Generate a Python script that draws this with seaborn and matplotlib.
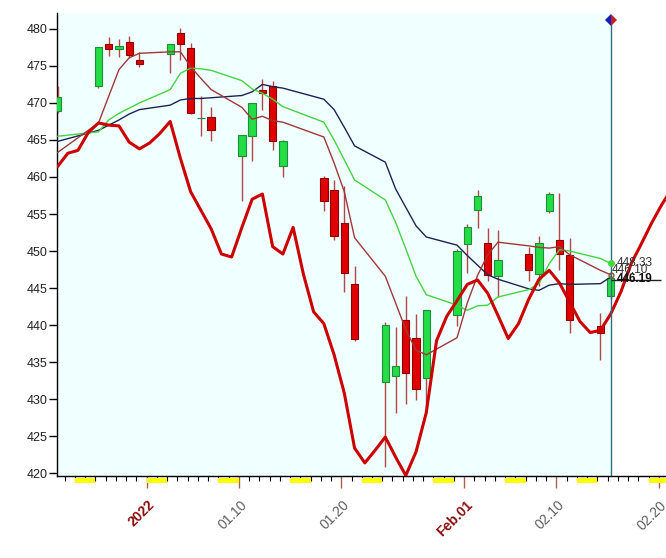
import numpy as np
import pandas as pd
import matplotlib.pyplot as plt
import matplotlib.transforms as mtransforms
from matplotlib.patches import Rectangle
import seaborn as sns

# trading days and OHLC
trade_dates = ["2021-12-23", "2021-12-27", "2021-12-28", "2021-12-29", "2021-12-30", "2021-12-31",
               "2022-01-03", "2022-01-04", "2022-01-05", "2022-01-06", "2022-01-07",
               "2022-01-10", "2022-01-11", "2022-01-12", "2022-01-13", "2022-01-14",
               "2022-01-18", "2022-01-19", "2022-01-20", "2022-01-21",
               "2022-01-24", "2022-01-25", "2022-01-26", "2022-01-27", "2022-01-28",
               "2022-01-31", "2022-02-01", "2022-02-02", "2022-02-03", "2022-02-04",
               "2022-02-07", "2022-02-08", "2022-02-09", "2022-02-10", "2022-02-11",
               "2022-02-14", "2022-02-15"]
opens = [468.9, 472.3, 477.9, 477.3, 478.2, 475.8, 476.6, 479.4, 477.4, 467.9, 468.1,
         462.9, 465.5, 471.8, 472.3, 461.5, 459.9, 458.2, 453.8, 445.5,
         432.3, 433.2, 440.7, 438.3, 432.9, 441.4, 450.9, 455.6, 451.1, 446.6,
         449.6, 446.9, 455.4, 451.5, 449.5, 439.9, 444.0]
highs = [472.3, 477.6, 478.9, 478.6, 479.0, 476.9, 477.9, 480.1, 478.1, 471.0, 469.4,
         465.7, 470.0, 473.2, 473.0, 465.0, 460.1, 459.6, 458.8, 448.0,
         440.4, 439.7, 443.9, 441.5, 442.0, 450.3, 453.6, 458.2, 453.1, 452.8,
         450.6, 452.0, 458.0, 457.9, 451.7, 441.6, 446.8]
lows = [468.6, 472.0, 476.3, 476.2, 476.0, 474.8, 474.0, 475.8, 468.5, 465.5, 464.9,
        456.8, 462.1, 469.1, 463.6, 460.0, 455.4, 451.5, 444.5, 437.9,
        420.8, 428.1, 429.3, 429.9, 428.0, 439.9, 447.0, 453.1, 445.9, 443.8,
        446.0, 445.3, 455.1, 447.4, 438.9, 435.3, 443.5]
closes = [470.8, 477.5, 477.3, 477.7, 476.5, 475.2, 477.9, 478.0, 468.6, 468.0, 466.4,
          465.7, 470.0, 471.4, 464.9, 464.8, 456.8, 452.0, 447.0, 438.1,
          440.0, 434.5, 433.6, 431.4, 442.0, 450.0, 453.2, 457.4, 446.8, 448.8,
          447.5, 451.1, 457.7, 449.6, 440.7, 439.0, 446.4]

# moving averages (one value per trading day)
ma_fast = [463.3, 467.3, 470.9, 474.5, 476.1, 476.7, 476.9, 476.9, 474.9, 473.3, 471.8,
           469.4, 467.8, 468.2, 467.6, 467.4, 465.4, 461.9, 458.0, 451.8,
           446.6, 443.0, 439.4, 436.6, 436.0, 438.3, 443.0, 446.7, 449.5, 451.2,
           450.7, 450.5, 450.4, 450.6, 449.5, 447.4, 446.8]
ma_mid = [465.5, 466.1, 467.7, 468.6, 469.3, 470.0, 471.8, 474.0, 474.7, 474.6, 474.4,
          473.0, 471.9, 471.3, 470.5, 469.5, 467.4, 465.0, 462.3, 459.6,
          456.9, 453.9, 450.3, 446.6, 444.1, 442.7, 442.0, 442.6, 442.7, 443.8,
          444.8, 445.6, 448.3, 450.2, 450.0, 449.0, 448.33]
ma_slow = [464.8, 466.3, 467.0, 467.7, 468.5, 469.1, 469.7, 470.4, 470.6, 470.6, 470.7,
           471.0, 471.5, 472.5, 472.2, 472.0, 470.5, 469.1, 466.7, 464.2,
           462.0, 458.4, 455.9, 453.4, 451.9, 450.8, 449.4, 448.1, 446.8, 446.2,
           444.9, 444.7, 445.4, 445.6, 445.5, 445.6, 446.5]

# thick cycle line, one value per calendar day from 2021-12-23
cycle_start = "2021-12-23"
cycle_vals = [461.4, 463.2, 463.6, 466.0, 467.3, 467.0, 466.9, 464.7, 463.8,
              464.6, 465.9, 467.5, 462.5, 458.0, 455.5, 453.0, 449.6, 449.2, 453.2,
              457.0, 457.7, 450.6, 449.6, 453.2, 446.9, 441.8, 440.2, 436.0, 430.8,
              423.4, 421.4, 423.1, 424.9, 422.2, 419.7, 422.9, 428.2, 437.9, 441.2,
              443.3, 445.5, 446.1, 444.3, 441.3, 438.2, 440.2, 443.5, 446.2, 447.4,
              445.7, 443.1, 440.5, 439.0, 439.3, 441.5, 444.5, 448.3, 451.0, 453.8,
              456.3, 458.5]

label_dates = ["2022-01-01", "2022-01-10", "2022-01-20", "2022-02-01", "2022-02-10", "2022-02-20"]
label_texts = ["2022", "01.10", "01.20", "Feb.01", "02.10", "02.20"]
label_bold = [True, False, False, True, False, False]

end_labels = ["448.33", "446.10", "446.19"]
end_values = [448.33, 447.4, 446.2]
last_close_line = 446.1

sns.set_style("white")
plt.rcParams['font.family'] = ['Liberation Sans', 'DejaVu Sans']

origin = pd.Timestamp("2022-01-01")
xd = np.array((pd.to_datetime(trade_dates) - origin).days, dtype=float)
cyc_days = pd.date_range(cycle_start, periods=len(cycle_vals))
xc = np.array((cyc_days - origin).days, dtype=float)
shift = 0.3  # day boundary sits a bit before the candle

fig = plt.figure(figsize=(6.66, 5.58), dpi=100)
ax = fig.add_axes([57 / 666, (558 - 475.5) / 558, 1 - 57 / 666, (475.5 - 13.3) / 558])
ax.set_facecolor("white")
x_left, x_right = xd[0] - 0.05, 50.4
y_low, y_high = 419.7, 482.1

# light cyan area up to the last bar
ax.axvspan(x_left, xd[-1], color="#F0FFFF", zorder=0, lw=0)

# candles
o, h, l, c = map(np.array, (opens, highs, lows, closes))
up = c >= o
ax.vlines(xd, l, h, color="#B04848", lw=1, zorder=3)
ax.bar(xd[up], (c - o)[up], bottom=o[up], width=0.72, color="#22DD44",
       edgecolor="#1E8E3A", linewidth=0.8, zorder=3)
ax.bar(xd[~up], (o - c)[~up], bottom=c[~up], width=0.72, color="#E00000",
       edgecolor="#8B0000", linewidth=0.8, zorder=3)

# lines
sns.lineplot(x=xd, y=ma_slow, ax=ax, color="#1C2452", lw=1, estimator=None, zorder=4)
sns.lineplot(x=xd, y=ma_mid, ax=ax, color="#44D444", lw=1, estimator=None, zorder=4)
sns.lineplot(x=xd, y=ma_fast, ax=ax, color="#A03838", lw=1, estimator=None, zorder=4)
sns.lineplot(x=xc, y=cycle_vals, ax=ax, color="#CC0000", lw=2.2, estimator=None, zorder=5)

# last bar marker line and end labels
last = xd[-1]
ax.vlines(last, y_low, 481.2, color="#2E6E7E", lw=1, zorder=6)
ax.plot([last], [481.2], marker="D", ms=6, fillstyle="left", color="#1020C0",
        markerfacecoloralt="#C02020", markeredgewidth=0, clip_on=False, zorder=7)
ax.hlines(last_close_line, last, last + 4.9, color="#202020", lw=1, zorder=6)
ax.plot([last], [ma_mid[-1]], "o", ms=4, color="#44D444", zorder=7)
ax.plot([last], [ma_fast[-1]], "o", ms=3.5, mfc="none", mec="#806040", zorder=7)
ax.text(last + 0.6, end_values[0], end_labels[0], fontsize=8.5, color="#333333", va="center", zorder=8)
ax.text(last + 0.1, end_values[1], end_labels[1], fontsize=8.5, color="#333333", va="center", zorder=8)
ax.text(last + 0.6, end_values[2], end_labels[2], fontsize=8.5, color="#111111", va="center",
        fontweight="bold", zorder=8)

# axes styling
for s in ["top", "right"]:
    ax.spines[s].set_visible(False)
for s in ["left", "bottom"]:
    ax.spines[s].set_color("black")
    ax.spines[s].set_linewidth(1)

ax.set_yticks(np.arange(420, 481, 5))
ax.tick_params(axis="y", direction="out", length=6, width=1, pad=1, labelsize=9,
               labelcolor="#222222", color="black", left=True)

all_days = pd.date_range("2021-12-23", "2022-02-21")
all_x = np.array((all_days - origin).days, dtype=float) - shift
lab_x = np.array((pd.to_datetime(label_dates) - origin).days, dtype=float) - shift
ax.set_xticks(lab_x)
ax.set_xticklabels([""] * len(lab_x))
ax.set_xticks(all_x, minor=True)
ax.tick_params(axis="x", which="major", direction="out", length=8.6, width=1,
               color="#A86050", bottom=True)
ax.tick_params(axis="x", which="minor", direction="out", length=3.6, width=0.8,
               color="black", bottom=True)

# limits after ticks so they are not widened
ax.set_xlim(x_left, x_right)
ax.set_ylim(y_low, y_high)

# weekend blocks under the axis
for dday, xx in zip(all_days, all_x):
    if dday.dayofweek == 5:
        ax.add_patch(Rectangle((xx, -0.0172), 2, 0.0118, transform=ax.get_xaxis_transform(),
                               color="#FFFF00", lw=0, clip_on=False, zorder=1))

off = mtransforms.ScaledTranslation(0.06, -0.275, fig.dpi_scale_trans)
for xx, txt, bold in zip(lab_x, label_texts, label_bold):
    ax.text(xx, 0, txt, transform=ax.get_xaxis_transform() + off, rotation=45,
            rotation_mode="anchor", ha="right", va="center", fontsize=10,
            color="#8B1010" if bold else "#606060",
            fontweight="bold" if bold else "normal", clip_on=False)

ax.set_xlabel("")
ax.set_ylabel("")
plt.savefig("out.png", dpi=100)
